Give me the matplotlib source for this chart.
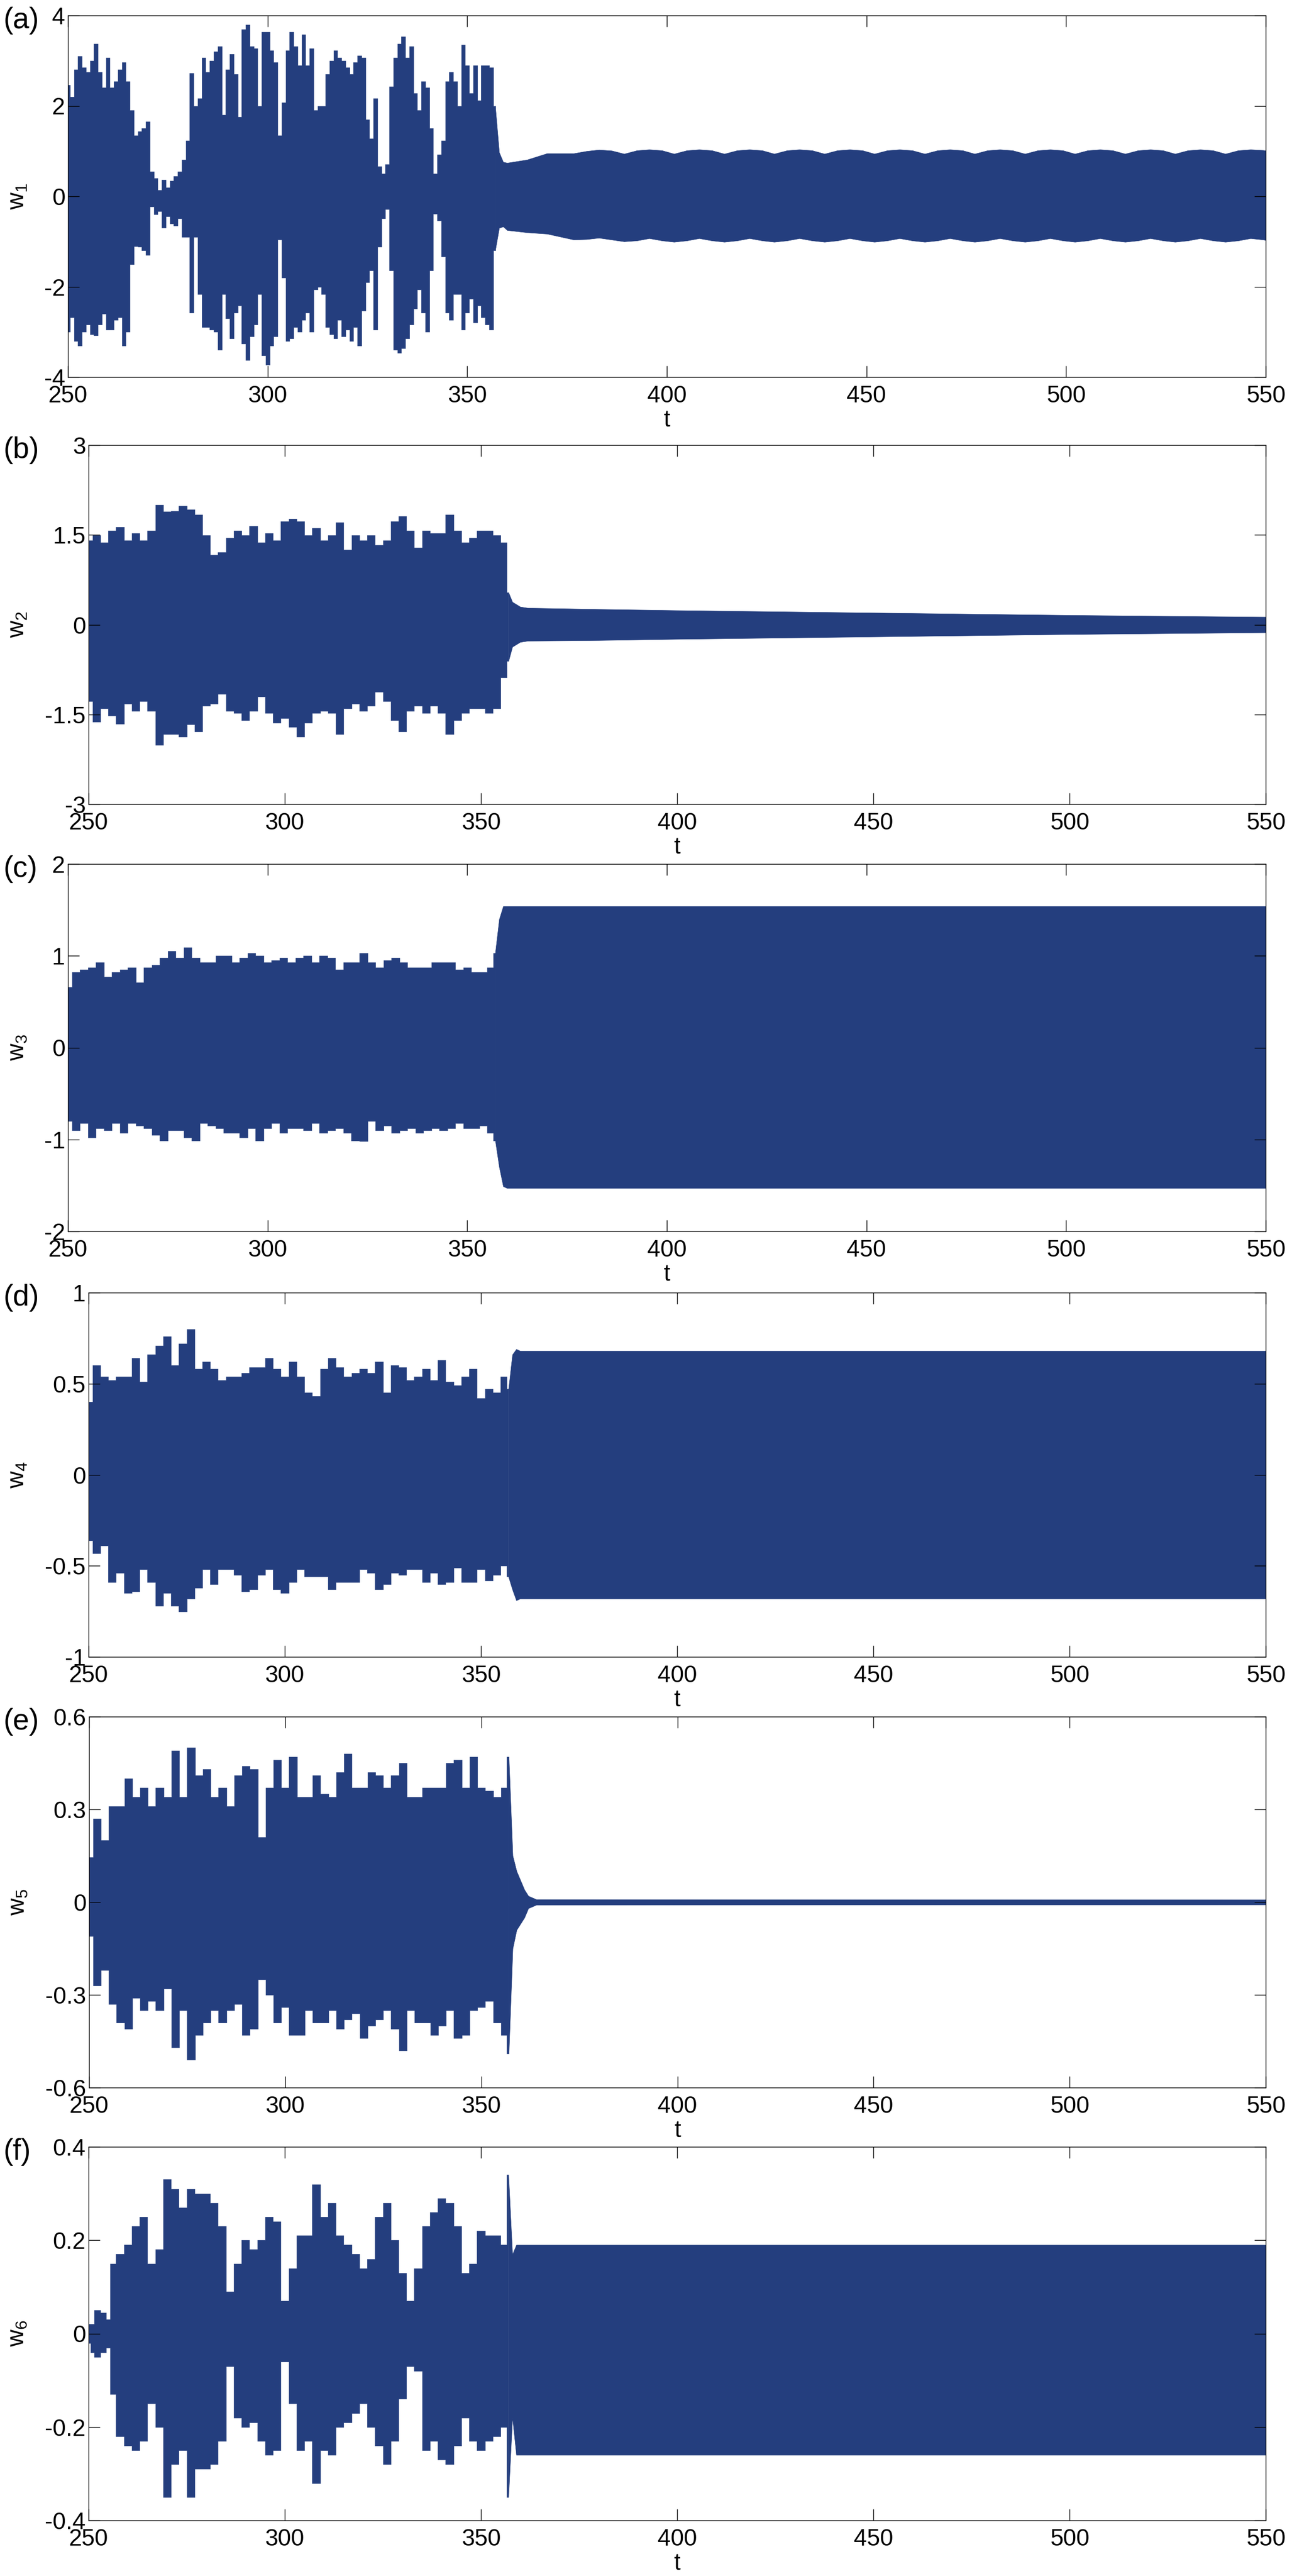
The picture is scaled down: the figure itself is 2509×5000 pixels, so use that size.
import matplotlib
matplotlib.use('Agg')
import matplotlib.pyplot as plt

plt.rcParams['font.family'] = ['Liberation Sans', 'DejaVu Sans']
plt.rcParams['mathtext.fontset'] = 'custom'
plt.rcParams['mathtext.rm'] = 'Liberation Sans'
plt.rcParams['mathtext.it'] = 'Liberation Sans'

# ---- data: upper / lower envelope of each signal ----
t_a = list(range(250, 361)) + [365, 370, 376.7, 379.9, 383.0, 386.2, 389.3, 392.5, 395.6, 398.8,
                               401.8, 405.0, 408.1, 411.3, 414.4, 417.6, 420.7, 423.9, 426.9, 430.1,
                               433.2, 436.4, 439.5, 442.7, 445.8, 449.0, 452.0, 455.2, 458.3, 461.5,
                               464.6, 467.8, 470.9, 474.1, 477.1, 480.3, 483.4, 486.6, 489.7, 492.9,
                               496.0, 499.2, 502.2, 505.4, 508.5, 511.7, 514.8, 518.0, 521.1, 524.3,
                               527.3, 530.5, 533.6, 536.8, 539.9, 543.1, 546.2, 549.4, 550]
hi_a = [2.46, 2.2, 2.8, 3.1, 2.85, 2.75, 3.0, 3.37, 2.75, 2.4,
        3.06, 2.4, 2.54, 2.8, 2.96, 2.54, 1.9, 1.34, 1.44, 1.5,
        1.65, 0.55, 0.4, 0.14, 0.37, 0.19, 0.34, 0.45, 0.55, 0.81,
        1.23, 2.72, 2.0, 2.17, 3.06, 2.75, 3.0, 3.2, 3.32, 1.8,
        2.8, 3.14, 2.7, 1.75, 3.69, 3.79, 3.32, 3.27, 2.0, 3.63,
        3.63, 3.22, 2.96, 1.34, 2.07, 3.22, 3.63, 3.32, 2.9, 3.58,
        2.9, 3.27, 1.9, 2.0, 2.0, 2.7, 3.0, 3.22, 3.06, 3.0,
        2.85, 2.7, 2.96, 3.11, 3.06, 1.7, 1.28, 2.17, 0.66, 0.5,
        0.71, 2.43, 3.06, 3.37, 3.53, 3.06, 3.32, 2.28, 1.9, 2.54,
        2.4, 1.5, 0.5, 0.92, 1.23, 2.54, 2.75, 2.54, 2.0, 3.35,
        2.9, 2.28, 2.9, 2.12, 2.9, 2.9, 2.85, 2.0, 0.97, 0.76,
        0.74,
        0.81, 0.95, 0.95, 1.0, 1.03, 1.01, 0.94, 1.015, 1.035, 1.015,
        0.94, 1.015, 1.035, 1.015, 0.94, 1.015, 1.035, 1.015, 0.94, 1.015,
        1.035, 1.015, 0.94, 1.015, 1.035, 1.015, 0.94, 1.015, 1.035, 1.015,
        0.94, 1.015, 1.035, 1.015, 0.94, 1.015, 1.035, 1.015, 0.94, 1.015,
        1.035, 1.015, 0.94, 1.015, 1.035, 1.015, 0.94, 1.015, 1.035, 1.015,
        0.94, 1.015, 1.035, 1.015, 0.94, 1.015, 1.035, 1.02, 1.01]
lo_a = [-3.0, -2.68, -3.2, -3.3, -3.0, -2.84, -3.05, -3.08, -2.84, -2.6,
        -2.95, -2.95, -2.74, -2.68, -3.3, -3.0, -1.5, -1.1, -1.12, -1.2,
        -1.3, -0.23, -0.4, -0.33, -0.7, -0.44, -0.6, -0.65, -0.49, -0.9,
        -0.9, -2.58, -0.9, -2.16, -2.89, -2.9, -2.95, -3.0, -3.4, -2.16,
        -2.7, -3.15, -2.58, -2.42, -3.26, -3.62, -3.1, -2.84, -2.16, -3.52,
        -3.73, -3.31, -3.1, -0.96, -1.8, -3.2, -3.15, -2.89, -3.0, -2.74,
        -2.58, -3.0, -2.06, -2.0, -2.16, -2.89, -3.05, -3.15, -2.74, -3.1,
        -2.95, -3.2, -2.89, -3.3, -2.53, -1.9, -1.64, -2.95, -1.12, -0.49,
        -0.28, -1.64, -3.4, -3.47, -3.36, -3.15, -2.84, -2.48, -2.06, -2.58,
        -3.0, -1.64, -0.39, -0.54, -1.33, -2.58, -2.74, -2.16, -2.16, -2.95,
        -2.58, -2.27, -2.79, -2.42, -2.68, -2.84, -2.95, -1.2, -0.7, -0.67,
        -0.75,
        -0.8, -0.83, -0.96, -0.95, -0.92, -0.96, -1.0, -0.98, -0.93, -0.98,
        -1.01, -0.98, -0.93, -0.98, -1.01, -0.98, -0.93, -0.98, -1.01, -0.98,
        -0.93, -0.98, -1.01, -0.98, -0.93, -0.98, -1.01, -0.98, -0.93, -0.98,
        -1.01, -0.98, -0.93, -0.98, -1.01, -0.98, -0.93, -0.98, -1.01, -0.98,
        -0.93, -0.98, -1.01, -0.98, -0.93, -0.98, -1.01, -0.98, -0.93, -0.98,
        -1.01, -0.98, -0.93, -0.98, -1.01, -0.98, -0.93, -0.96, -0.97]

t_b = list(range(250, 357, 2)) + [357, 358, 360, 362, 380, 400, 450, 500, 550]
hi_b = [1.41, 1.49, 1.37, 1.57, 1.63, 1.41, 1.53, 1.41, 1.57, 2.0,
        1.89, 1.90, 1.98, 1.92, 1.84, 1.49, 1.17, 1.21, 1.45, 1.57,
        1.49, 1.65, 1.37, 1.53, 1.41, 1.73, 1.77, 1.73, 1.49, 1.61,
        1.41, 1.49, 1.71, 1.25, 1.49, 1.41, 1.49, 1.33, 1.41, 1.73,
        1.81, 1.57, 1.29, 1.57, 1.53, 1.53, 1.84, 1.57, 1.37, 1.45,
        1.57, 1.57, 1.49, 1.37,
        0.54, 0.38, 0.30, 0.28, 0.26, 0.24, 0.20, 0.16, 0.13]
lo_b = [-1.28, -1.62, -1.40, -1.52, -1.66, -1.32, -1.44, -1.28, -1.44, -2.01,
        -1.83, -1.83, -1.87, -1.67, -1.79, -1.36, -1.32, -1.16, -1.44, -1.48,
        -1.60, -1.44, -1.20, -1.48, -1.64, -1.56, -1.71, -1.87, -1.64, -1.48,
        -1.44, -1.48, -1.83, -1.40, -1.32, -1.44, -1.36, -1.12, -1.28, -1.60,
        -1.79, -1.44, -1.36, -1.48, -1.36, -1.48, -1.83, -1.60, -1.48, -1.40,
        -1.40, -1.48, -1.40, -0.88,
        -0.61, -0.37, -0.29, -0.27, -0.26, -0.24, -0.20, -0.16, -0.13]

t_c = list(range(250, 357, 2)) + [357, 358, 359, 360, 550]
hi_c = [0.66, 0.82, 0.85, 0.87, 0.93, 0.77, 0.82, 0.85, 0.87, 0.71,
        0.87, 0.90, 0.98, 1.05, 0.98, 1.09, 0.98, 0.93, 0.93, 1.0,
        1.0, 0.93, 0.98, 1.03, 1.0, 0.93, 0.95, 0.98, 0.93, 0.98,
        1.0, 0.93, 1.0, 0.98, 0.85, 0.93, 0.93, 1.03, 0.93, 0.87,
        0.95, 0.98, 0.93, 0.87, 0.87, 0.87, 0.93, 0.93, 0.93, 0.85,
        0.87, 0.82, 0.82, 0.87,
        1.03, 1.40, 1.54, 1.54, 1.54]
lo_c = [-0.80, -0.90, -0.82, -0.98, -0.88, -0.90, -0.82, -0.93, -0.82, -0.85,
        -0.88, -0.95, -1.01, -0.90, -0.90, -0.98, -1.01, -0.82, -0.85, -0.88,
        -0.93, -0.93, -0.98, -0.88, -1.01, -0.88, -0.82, -0.93, -0.88, -0.88,
        -0.90, -0.82, -0.93, -0.90, -0.88, -0.93, -1.01, -1.02, -0.80, -0.90,
        -0.85, -0.93, -0.90, -0.88, -0.93, -0.90, -0.88, -0.90, -0.88, -0.82,
        -0.88, -0.88, -0.85, -0.93,
        -1.01, -1.30, -1.51, -1.53, -1.53]

t_d = list(range(250, 357, 2)) + [357, 358, 359, 360, 550]
hi_d = [0.40, 0.60, 0.54, 0.52, 0.54, 0.54, 0.64, 0.51, 0.66, 0.71,
        0.76, 0.60, 0.72, 0.80, 0.58, 0.62, 0.58, 0.52, 0.54, 0.54,
        0.56, 0.59, 0.59, 0.64, 0.58, 0.54, 0.62, 0.54, 0.45, 0.43,
        0.58, 0.64, 0.59, 0.54, 0.56, 0.58, 0.56, 0.62, 0.45, 0.60,
        0.59, 0.52, 0.54, 0.58, 0.52, 0.63, 0.51, 0.49, 0.54, 0.58,
        0.42, 0.47, 0.45, 0.54,
        0.47, 0.66, 0.69, 0.68, 0.68]
lo_d = [-0.36, -0.43, -0.39, -0.59, -0.54, -0.65, -0.64, -0.52, -0.59, -0.72,
        -0.65, -0.72, -0.75, -0.68, -0.62, -0.52, -0.60, -0.52, -0.52, -0.55,
        -0.64, -0.63, -0.55, -0.52, -0.63, -0.65, -0.59, -0.52, -0.56, -0.56,
        -0.56, -0.63, -0.59, -0.59, -0.59, -0.52, -0.54, -0.63, -0.60, -0.54,
        -0.55, -0.52, -0.52, -0.59, -0.54, -0.60, -0.59, -0.51, -0.59, -0.59,
        -0.52, -0.58, -0.55, -0.50,
        -0.56, -0.63, -0.69, -0.68, -0.68]

t_e = list(range(250, 357, 2)) + [357, 358, 359, 360, 361, 362, 364, 550]
hi_e = [0.145, 0.27, 0.20, 0.31, 0.31, 0.40, 0.34, 0.37, 0.31, 0.37,
        0.34, 0.49, 0.34, 0.50, 0.41, 0.43, 0.34, 0.37, 0.31, 0.41,
        0.44, 0.43, 0.21, 0.37, 0.46, 0.37, 0.47, 0.34, 0.34, 0.41,
        0.35, 0.34, 0.42, 0.48, 0.37, 0.37, 0.42, 0.41, 0.37, 0.41,
        0.45, 0.34, 0.34, 0.37, 0.37, 0.37, 0.45, 0.46, 0.37, 0.47,
        0.37, 0.36, 0.34, 0.37,
        0.47, 0.15, 0.10, 0.07, 0.04, 0.02, 0.009, 0.008]
lo_e = [-0.11, -0.27, -0.22, -0.33, -0.39, -0.41, -0.31, -0.35, -0.32, -0.35,
        -0.28, -0.47, -0.35, -0.51, -0.43, -0.39, -0.35, -0.39, -0.35, -0.33,
        -0.43, -0.41, -0.25, -0.30, -0.39, -0.34, -0.43, -0.43, -0.35, -0.39,
        -0.39, -0.35, -0.41, -0.38, -0.36, -0.44, -0.40, -0.38, -0.35, -0.41,
        -0.48, -0.35, -0.39, -0.39, -0.43, -0.40, -0.35, -0.44, -0.43, -0.35,
        -0.34, -0.32, -0.39, -0.43,
        -0.49, -0.15, -0.09, -0.07, -0.05, -0.02, -0.009, -0.008]

t_f = [250, 251, 252, 254, 255] + list(range(256, 357, 2)) + [357, 358, 359, 360, 550]
hi_f = [0.02, 0.02, 0.05, 0.045, 0.03,
        0.15, 0.17, 0.19, 0.23, 0.25, 0.15, 0.18, 0.33, 0.31, 0.27,
        0.31, 0.30, 0.30, 0.28, 0.23, 0.09, 0.15, 0.20, 0.18, 0.20,
        0.25, 0.24, 0.07, 0.14, 0.21, 0.21, 0.32, 0.25, 0.28, 0.21,
        0.19, 0.17, 0.14, 0.16, 0.25, 0.28, 0.20, 0.13, 0.07, 0.14,
        0.23, 0.26, 0.29, 0.28, 0.23, 0.13, 0.15, 0.22, 0.21, 0.21,
        0.19,
        0.34, 0.17, 0.19, 0.19, 0.19]
lo_f = [-0.02, -0.04, -0.05, -0.04, -0.03,
        -0.13, -0.22, -0.24, -0.25, -0.23, -0.15, -0.20, -0.35, -0.28, -0.25,
        -0.35, -0.29, -0.29, -0.28, -0.23, -0.07, -0.18, -0.20, -0.19, -0.23,
        -0.26, -0.25, -0.06, -0.15, -0.25, -0.23, -0.32, -0.25, -0.26, -0.20,
        -0.19, -0.17, -0.15, -0.20, -0.24, -0.28, -0.23, -0.14, -0.07, -0.08,
        -0.25, -0.23, -0.27, -0.28, -0.24, -0.18, -0.23, -0.25, -0.23, -0.22,
        -0.20,
        -0.35, -0.18, -0.26, -0.26, -0.26]

letters = ['(a)', '(b)', '(c)', '(d)', '(e)', '(f)']
ylabels = ['$w_1$', '$w_2$', '$w_3$', '$w_4$', '$w_5$', '$w_6$']
xticks = [250, 300, 350, 400, 450, 500, 550]
yticks = [[-4, -2, 0, 2, 4],
          [-3, -1.5, 0, 1.5, 3],
          [-2, -1, 0, 1, 2],
          [-1, -0.5, 0, 0.5, 1],
          [-0.6, -0.3, 0, 0.3, 0.6],
          [-0.4, -0.2, 0, 0.2, 0.4]]
ytick_labels = [['-4', '-2', '0', '2', '4'],
                ['-3', '-1.5', '0', '1.5', '3'],
                ['-2', '-1', '0', '1', '2'],
                ['-1', '-0.5', '0', '0.5', '1'],
                ['-0.6', '-0.3', '0', '0.3', '0.6'],
                ['-0.4', '-0.2', '0', '0.2', '0.4']]

series = [(t_a, hi_a, lo_a), (t_b, hi_b, lo_b), (t_c, hi_c, lo_c),
          (t_d, hi_d, lo_d), (t_e, hi_e, lo_e), (t_f, hi_f, lo_f)]

# panel boxes in pixels: left, top, bottom (right edge is shared)
W, H = 2509, 5000
right = 2458
boxes = [(132, 30, 732), (172, 864, 1561), (132, 1677, 2390),
         (172, 2509, 3216), (173, 3332, 4052), (172, 4167, 4892)]

blue = '#243e7e'

fig = plt.figure(figsize=(W / 100, H / 100), dpi=100)

for i, (left, top, bottom) in enumerate(boxes):
    ax = fig.add_axes([left / W, 1 - bottom / H, (right - left) / W, (bottom - top) / H])
    t, hi, lo = series[i]
    # irregular part drawn as bars, settled part as a smooth band
    k = t.index(357)
    ax.fill_between(t[:k + 1], lo[:k + 1], hi[:k + 1], step='mid', color=blue,
                    linewidth=0.5, edgecolor=blue)
    ax.fill_between(t[k:], lo[k:], hi[k:], color=blue, linewidth=0.5, edgecolor=blue)

    ax.set_xlim(250, 550)
    ax.set_ylim(yticks[i][0], yticks[i][-1])
    ax.set_xticks(xticks)
    ax.set_xticklabels([str(x) for x in xticks])
    ax.set_yticks(yticks[i])
    ax.set_yticklabels(ytick_labels[i])
    ax.tick_params(direction='in', length=16, width=1, top=True, right=True,
                   labelsize=33, color='black')
    ax.tick_params(axis='x', pad=11)
    ax.tick_params(axis='y', pad=4)
    for sp in ax.spines.values():
        sp.set_linewidth(1.0)

    ax.set_xlabel('t', fontsize=33)
    ax.xaxis.set_label_coords(0.5, -62 / (bottom - top))
    ax.set_ylabel(ylabels[i], fontsize=33, va='center', ha='center')
    ax.yaxis.set_label_coords((35 - left) / (right - left), 0.5)

    fig.text(6 / W, 1 - (top + 10) / H, letters[i], fontsize=41,
             ha='left', va='center')

fig.savefig('out.png', dpi=100, facecolor='white')
